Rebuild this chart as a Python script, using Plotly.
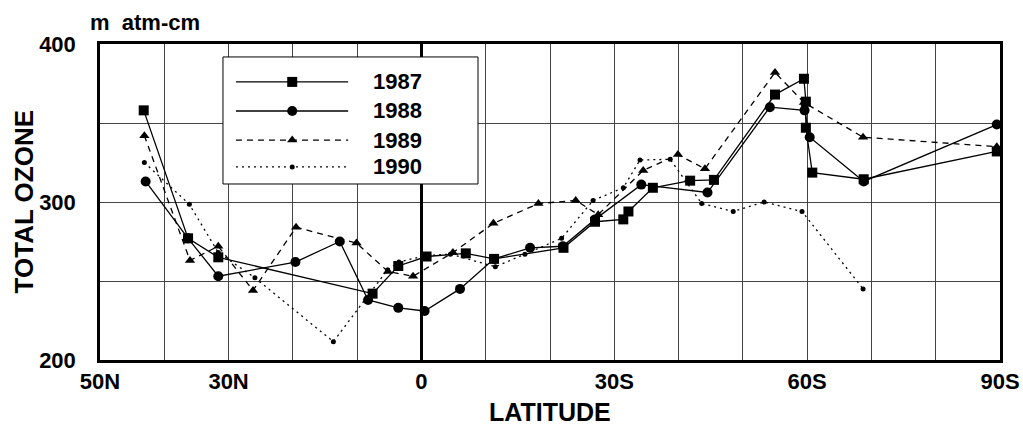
import plotly.graph_objects as go

# Latitude: N negative, S positive
lat_1987 = [-43.2, -36.3, -31.6, -7.6, -3.6, 0.8, 6.9, 11.3, 22.1, 27.0, 31.4, 32.2, 36.0, 41.8, 45.5, 55.0, 59.5, 59.8, 59.8, 60.8, 68.8, 89.5]
oz_1987 = [358, 277, 265, 242, 259.5, 265.5, 267.5, 264, 271, 287.5, 289, 294, 309, 313.5, 314, 368, 378, 363.5, 347, 318.6, 314.4, 332]

lat_1988 = [-42.9, -36.3, -31.6, -19.6, -12.7, -8.3, -3.6, 0.5, 6.0, 11.3, 16.9, 22.0, 27.0, 34.2, 44.5, 54.2, 59.6, 60.4, 68.8, 89.5]
oz_1988 = [313, 277, 253, 262, 275, 238, 233, 231, 245, 264, 271, 272, 289, 311, 306, 360, 358, 341, 313, 349]

lat_1989 = [-43.1, -36.0, -31.6, -26.2, -19.5, -10.1, -5.2, -1.3, 4.9, 11.2, 18.2, 24.0, 27.5, 34.5, 39.9, 44.1, 55.0, 59.5, 68.7, 89.5]
oz_1989 = [342, 263, 272, 244, 284, 274, 256, 253, 268, 286.5, 299, 301, 292, 320, 330, 321, 382, 363, 341, 335]

lat_1990 = [-43.1, -36.1, -31.6, -25.9, -13.7, -5.3, -3.5, 0.5, 4.5, 11.5, 16.1, 21.8, 26.7, 31.4, 34.0, 38.7, 43.6, 48.5, 53.3, 59.2, 68.7]
oz_1990 = [325, 298.5, 268, 252, 211.6, 257, 262, 266, 267, 259, 267, 277, 301, 309, 326.6, 327, 299, 294, 300, 294, 245]

years = ["1987", "1988", "1989", "1990"]

x_tickvals = [-50, -40, -30, -20, -10, 0, 10, 20, 30, 40, 50, 60, 70, 80, 90]
x_ticktext = ["50N", "", "30N", "", "", "0", "", "", "30S", "", "", "60S", "", "", "90S"]
y_tickvals = [200, 250, 300, 350, 400]
y_ticktext = ["200", "", "300", "", "400"]

styles = [
    dict(dash="solid", symbol="square", size=10),
    dict(dash="solid", symbol="circle", size=10),
    dict(dash="6px,5px", symbol="triangle-up", size=9),
    dict(dash="2px,4px", symbol="circle", size=5),
]
series = [(lat_1987, oz_1987), (lat_1988, oz_1988), (lat_1989, oz_1989), (lat_1990, oz_1990)]

fig = go.Figure()
for (xs, ys), st, name in zip(series, styles, years):
    fig.add_trace(go.Scatter(
        x=xs, y=ys, mode="lines+markers", name=name,
        line=dict(color="black", width=1.3, dash=st["dash"]),
        marker=dict(color="black", symbol=st["symbol"], size=st["size"]),
        showlegend=False, cliponaxis=False,
    ))

# Hand-drawn legend (in data coordinates) inside a white box
leg_x0, leg_x1, leg_xm = -28.85, -11.4, -20.1
leg_rows = [376, 357.6, 339.2, 322.2]
for st, name, yr in zip(styles, years, leg_rows):
    fig.add_trace(go.Scatter(
        x=[leg_x0, leg_x1], y=[yr, yr], mode="lines",
        line=dict(color="black", width=1.3, dash=st["dash"]),
        showlegend=False, hoverinfo="skip",
    ))
    fig.add_trace(go.Scatter(
        x=[leg_xm], y=[yr], mode="markers",
        marker=dict(color="black", symbol=st["symbol"], size=st["size"]),
        showlegend=False, hoverinfo="skip",
    ))
    fig.add_annotation(x=-7.8, y=yr, xref="x", yref="y", text=name, showarrow=False,
                       xanchor="left", yanchor="middle",
                       font=dict(family="Liberation Sans", size=22, color="black", weight="bold"))

fig.add_shape(type="rect", xref="x", yref="y", x0=-30.87, x1=8.8, y0=311.4, y1=391.8,
              line=dict(color="black", width=1), fillcolor="white", layer="between")

fig.update_layout(
    width=1023, height=428,
    margin=dict(l=100, r=23, t=44, b=68, autoexpand=False),
    paper_bgcolor="white", plot_bgcolor="white",
    font=dict(family="Liberation Sans", color="black"),
    xaxis=dict(
        range=[-50, 90], tickvals=x_tickvals, ticktext=x_ticktext,
        showgrid=True, gridcolor="#444", gridwidth=1, automargin=False,
        zeroline=True, zerolinecolor="black", zerolinewidth=2.5,
        showline=True, linecolor="black", linewidth=2.5, mirror=True,
        ticks="", tickfont=dict(size=22, weight="bold", color="black"),
    ),
    yaxis=dict(
        range=[200, 400], tickvals=y_tickvals, ticktext=y_ticktext,
        showgrid=True, gridcolor="#444", gridwidth=1, automargin=False,
        zeroline=False,
        showline=True, linecolor="black", linewidth=2.5, mirror=True,
        ticks="", ticklabelstandoff=17, tickfont=dict(size=22, weight="bold", color="black"),
    ),
)

fig.add_annotation(x=0.5, y=-0.165, xref="paper", yref="paper", text="LATITUDE", showarrow=False,
                   xanchor="center", yanchor="middle",
                   font=dict(family="Liberation Sans", size=25, color="black", weight="bold"))
fig.add_annotation(x=-0.084, y=0.5, xref="paper", yref="paper", text="TOTAL OZONE", showarrow=False,
                   xanchor="center", yanchor="middle", textangle=-90,
                   font=dict(family="Liberation Sans", size=26, color="black", weight="bold"))
fig.add_annotation(x=-0.013, y=1.022, xref="paper", yref="paper", text="m  atm-cm", showarrow=False,
                   xanchor="left", yanchor="bottom",
                   font=dict(family="Liberation Sans", size=22, color="black", weight="bold"))

fig.write_html("out.html")
